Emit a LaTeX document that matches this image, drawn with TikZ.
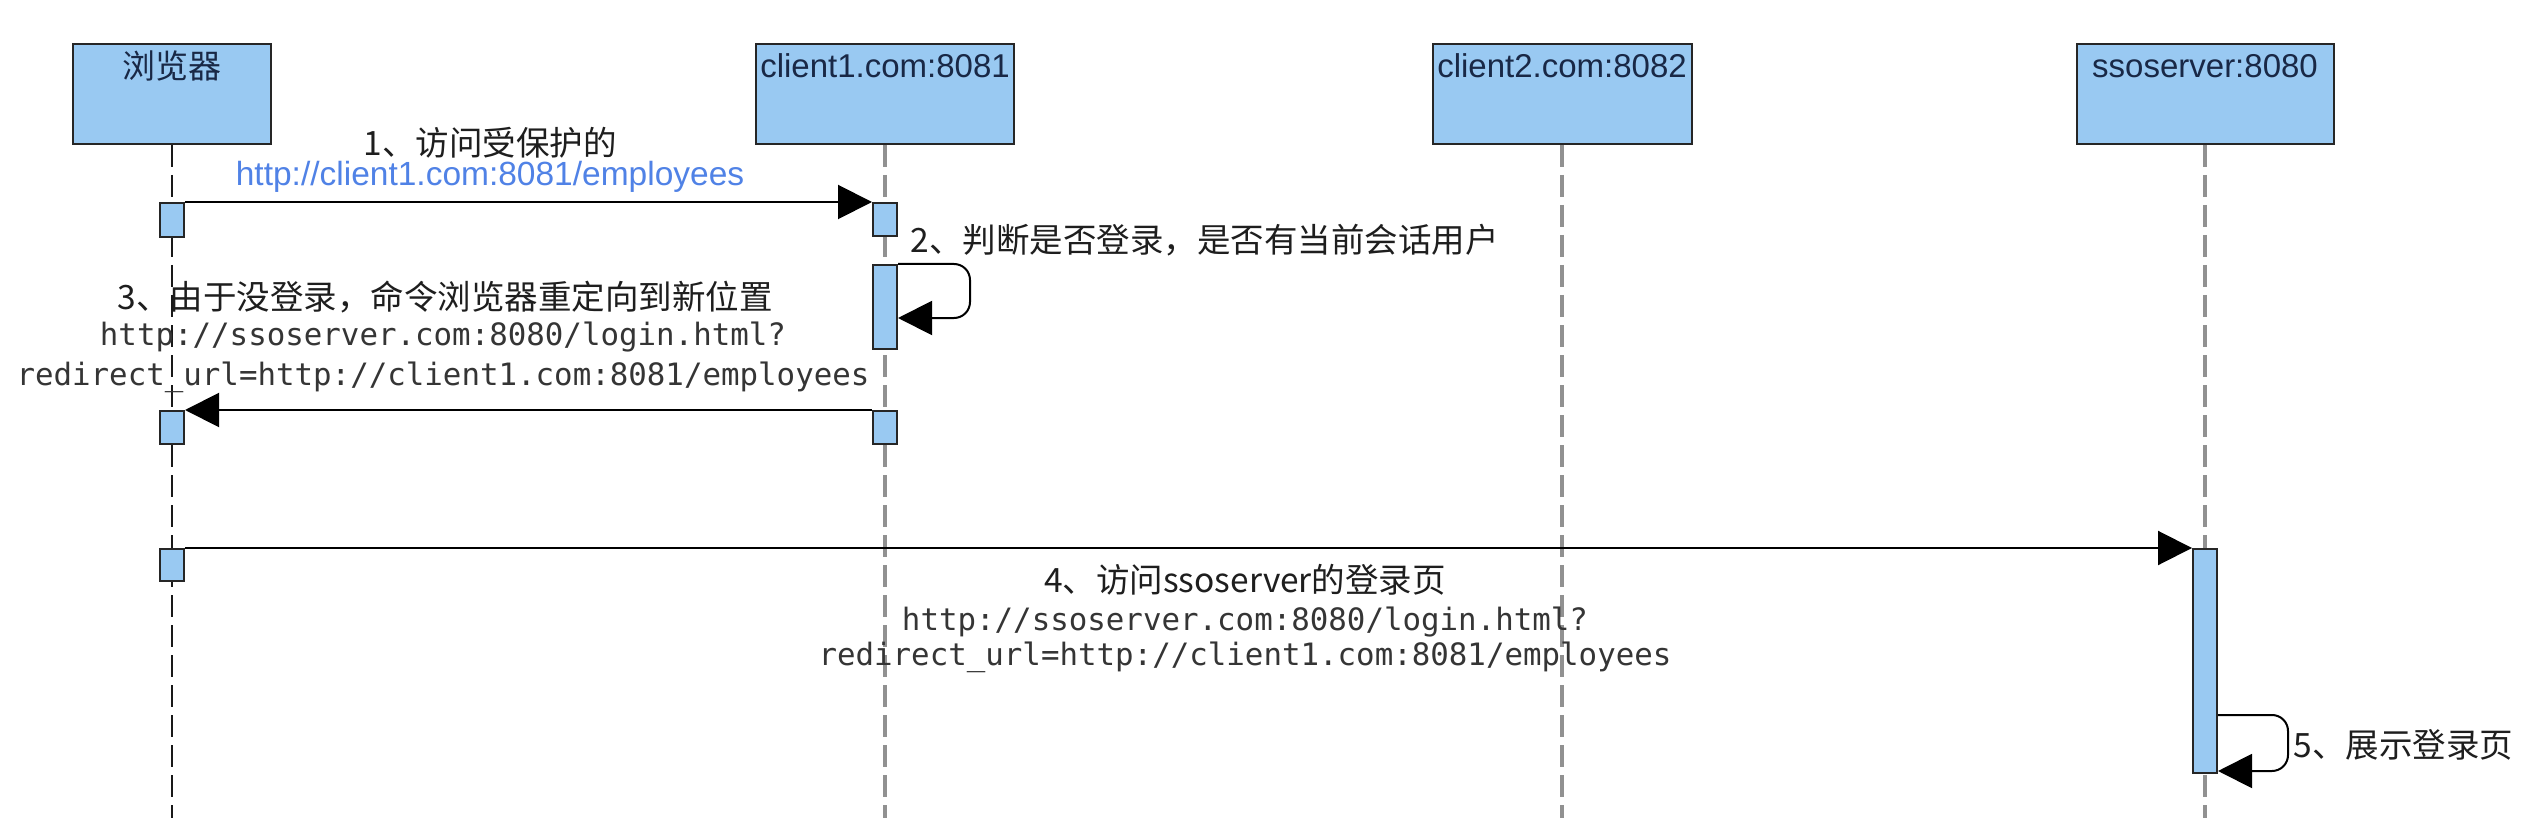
\documentclass[tikz,border=0pt]{standalone}
\usepackage{fontspec}
\setmainfont{Liberation Sans}
\newfontfamily\cjk{Noto Sans CJK SC}
\newfontfamily\monof{DejaVu Sans Mono}
\usetikzlibrary{arrows.meta}
\definecolor{boxfill}{RGB}{153,201,242}
\definecolor{boxtext}{RGB}{25,40,70}
\definecolor{lifegray}{RGB}{145,145,145}
\definecolor{urlblue}{RGB}{80,130,230}
\definecolor{labeltext}{RGB}{30,30,30}
\tikzset{
  headbox/.style={draw=black!85, line width=1pt, fill=boxfill, minimum height=50pt, inner sep=0pt, anchor=north},
  headtxt/.style={text=boxtext, font=\fontsize{16.5}{19}\selectfont, inner sep=0pt},
  actbox/.style={draw=black!85, line width=1pt, fill=boxfill, minimum width=12pt, inner sep=0pt, anchor=north},
  lifeB/.style={draw=black!90, line width=1pt, dash pattern=on 11pt off 4pt},
  lifeG/.style={draw=lifegray, line width=1.8pt, dash pattern=on 11pt off 4pt},
  msg/.style={draw=black, line width=1pt, -{Triangle[length=17pt,width=17pt]}},
  cjklab/.style={text=labeltext, font=\cjk\fontsize{16.75}{19}\selectfont, inner sep=0pt},
  urllab/.style={text=urlblue, font=\fontsize{16.75}{19}\selectfont, inner sep=0pt},
  monolab/.style={text=labeltext!90, font=\monof\fontsize{15.4}{18}\selectfont, inner sep=0pt}
}
\begin{document}
\begin{tikzpicture}[x=0.5pt,y=-0.5pt]
\useasboundingbox[fill=white] (0,0) rectangle (2548,818);

% heads
\node[headbox, minimum width=99pt] (B) at (172,43) {};
\node[headbox, minimum width=129pt] (C1) at (885,43) {};
\node[headbox, minimum width=129.5pt] (C2) at (1562,43) {};
\node[headbox, minimum width=128.5pt] (S) at (2205,43) {};
\node[headtxt] (Bt) at (172,66) {\cjk 浏览器};
\node[headtxt] (C1t) at (885,66) {client1.com:8081};
\node[headtxt] (C2t) at (1562,66) {client2.com:8082};
\node[headtxt] (St) at (2205,66) {ssoserver:8080};

% lifeline ends
\coordinate (Be) at (172,818);
\coordinate (C1e) at (885,818);
\coordinate (C2e) at (1562,818);
\coordinate (Se) at (2205,818);
\draw[lifeB] (B.south) -- (Be);
\draw[lifeG] (C1.south) -- (C1e);
\draw[lifeG] (C2.south) -- (C2e);
\draw[lifeG] (S.south) -- (Se);

% activations
\node[actbox, minimum height=17pt] (ba1) at (172,202) {};
\node[actbox, minimum height=16.5pt] (ba2) at (172,410) {};
\node[actbox, minimum height=16pt] (ba3) at (172,548) {};
\node[actbox, minimum height=16.5pt] (ca1) at (885,202) {};
\node[actbox, minimum height=42pt] (ca2) at (885,264) {};
\node[actbox, minimum height=16.5pt] (ca3) at (885,410) {};
\node[actbox, minimum height=112pt] (sa1) at (2205,548) {};

% messages
\draw[msg] (ba1.north east) -- (ca1.north west);
\coordinate (l2a) at (970,264);
\coordinate (l2b) at (970,318);
\draw[msg, rounded corners=8pt] (ca2.north east) -- (l2a) -- (l2b) -- (ca2.east |- l2b);
\draw[msg] (ca3.north west) -- (ba2.north east);
\draw[msg] (ba3.north east) -- (sa1.north west);
\coordinate (l5a) at (2288,715);
\coordinate (l5b) at (2288,771);
\draw[msg, rounded corners=8pt] (sa1.east |- l5a) -- (l5a) -- (l5b) -- (sa1.east |- l5b);

% labels
\node[cjklab] (L1a) at (490,143) {1、访问受保护的};
\node[urllab] (L1b) at (490,177) {http://client1.com:8081/employees};
\node[cjklab, anchor=west] (L2) at (910,240) {2、判断是否登录，是否有当前会话用户};
\node[cjklab] (L3a) at (445,297) {3、由于没登录，命令浏览器重定向到新位置};
\node[monolab] (L3b) at (443,337) {http://ssoserver.com:8080/login.html?};
\node[monolab] (L3c) at (443,377) {redirect\_url=http://client1.com:8081/employees};
\node[cjklab] (L4a) at (1245,580) {4、访问ssoserver的登录页};
\node[monolab] (L4b) at (1245,622) {http://ssoserver.com:8080/login.html?};
\node[monolab] (L4c) at (1245,657) {redirect\_url=http://client1.com:8081/employees};
\node[cjklab, anchor=west] (L5) at (2293,745) {5、展示登录页};
\end{tikzpicture}
\end{document}
